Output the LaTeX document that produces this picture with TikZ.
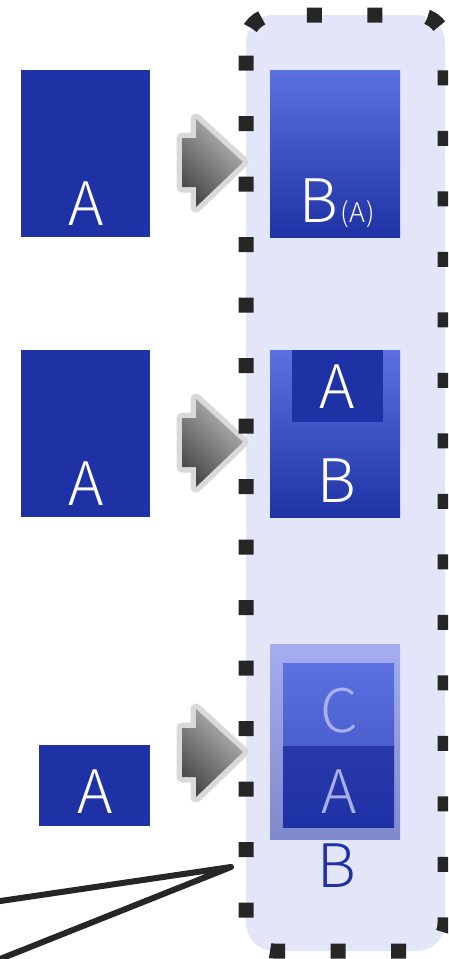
\documentclass[tikz,border=0pt]{standalone}
\usepackage{fontspec}
\IfFontExistsTF{Noto Sans CJK JP Light}{\setmainfont{Noto Sans CJK JP Light}}{%
  \IfFontExistsTF{Noto Sans CJK JP DemiLight}{\setmainfont{Noto Sans CJK JP DemiLight}}{%
    \IfFontExistsTF{Lato Light}{\setmainfont{Lato Light}}{\setmainfont{Noto Sans}}}}
\definecolor{dblue}{HTML}{1F32A5}
\definecolor{mblue}{HTML}{5C71E1}
\definecolor{cont}{HTML}{E3E6F9}
\definecolor{dotc}{HTML}{262626}
\definecolor{lgray}{HTML}{D9D9D9}
\definecolor{otop}{HTML}{A3ADEF}
\definecolor{obot}{HTML}{7F8ACC}
\definecolor{ctext}{HTML}{A8B1EC}
\definecolor{cbot}{HTML}{4B5FCF}
\definecolor{atop}{HTML}{2738AB}
\definecolor{adark}{HTML}{4A4A4A}
\definecolor{alight}{HTML}{B8B8B8}
\begin{document}
\begin{tikzpicture}[x=1pt,y=-1pt,
  flat/.style={fill=dblue, draw=none, inner sep=0pt},
  grad/.style={top color=mblue, bottom color=dblue, draw=none, inner sep=0pt},
  lbl/.style={anchor=base, inner sep=0pt, text=white, font=\fontsize{60}{62}\selectfont},
  blockarrow/.pic={
    \path[draw=lgray, line width=11pt, line join=round]
      (-61,-24) -- (-47,-24) -- (-47,-43) -- (0,0) -- (-47,45) -- (-47,25) -- (-61,25) -- cycle;
    \shade[top color=alight, bottom color=adark, shading angle=-45]
      (-61,-24) -- (-47,-24) -- (-47,-43) -- (0,0) -- (-47,45) -- (-47,25) -- (-61,25) -- cycle;
  }]
\useasboundingbox (0,0) rectangle (448,959);
\clip (0,0) rectangle (448,959);

% container
\node[fill=cont, draw=none, rounded corners=28pt, minimum width=199pt, minimum height=936pt, inner sep=0pt] (cont) at (345.5,483) {};

% left boxes
\node[flat, minimum width=129pt, minimum height=167pt] (a1) at (85.5,153.5) {};
\node[lbl] (a1t) at (86,225) {A};
\node[flat, minimum width=129pt, minimum height=167pt] (a2) at (85.5,433.5) {};
\node[lbl] (a2t) at (86,505) {A};
\node[flat, minimum width=111pt, minimum height=81pt] (a3) at (94.5,785.5) {};
\node[lbl] (a3t) at (95,813) {A};

% arrows
\pic at (243,162) {blockarrow};
\pic at (243,442) {blockarrow};
\pic at (243,752) {blockarrow};

% B1
\node[grad, minimum width=130pt, minimum height=167pt] (b1) at (335,153.5) {};
\node[lbl] (b1t) at (337,222) {B\kern3pt{\fontsize{27}{28}\selectfont(\kern0.5pt A\kern0.5pt)}};

% B2
\node[grad, minimum width=130pt, minimum height=167pt] (b2) at (335,433.5) {};
\node[flat, minimum width=91pt, minimum height=72pt] (b2a) at (337.5,386) {};
\node[lbl] (b2at) at (337,408) {A};
\node[lbl] (b2t) at (337,502) {B};

% B3
\node[top color=otop, bottom color=obot, draw=none, inner sep=0pt, minimum width=130pt, minimum height=195pt] (b3) at (335,741.5) {};
\node[top color=mblue, bottom color=cbot, draw=none, inner sep=0pt, minimum width=111pt, minimum height=83pt] (b3c) at (338.5,704.5) {};
\node[top color=atop, bottom color=dblue, draw=none, inner sep=0pt, minimum width=111pt, minimum height=81pt] (b3a) at (338.5,786.5) {};
\node[lbl, text=ctext] (b3ct) at (339,732) {C};
\node[lbl, text=ctext] (b3at) at (339,813) {A};
\node[lbl, text=dblue] (b3t) at (337,887) {B};

% dotted border
\draw[dotc, line width=15pt, dash pattern=on 15pt off 45.5pt, dash phase=48pt, rounded corners=28pt]
  (246,15) -- (246,951) -- (445,951) -- (445,15) -- cycle;

% lines
\coordinate (apex) at (231,867);
\coordinate (e1) at (-20,904);
\coordinate (e2) at (-20,967);
\draw[dotc, line width=6pt, line join=round] (e1) -- (apex) -- (e2);
\end{tikzpicture}
\end{document}
